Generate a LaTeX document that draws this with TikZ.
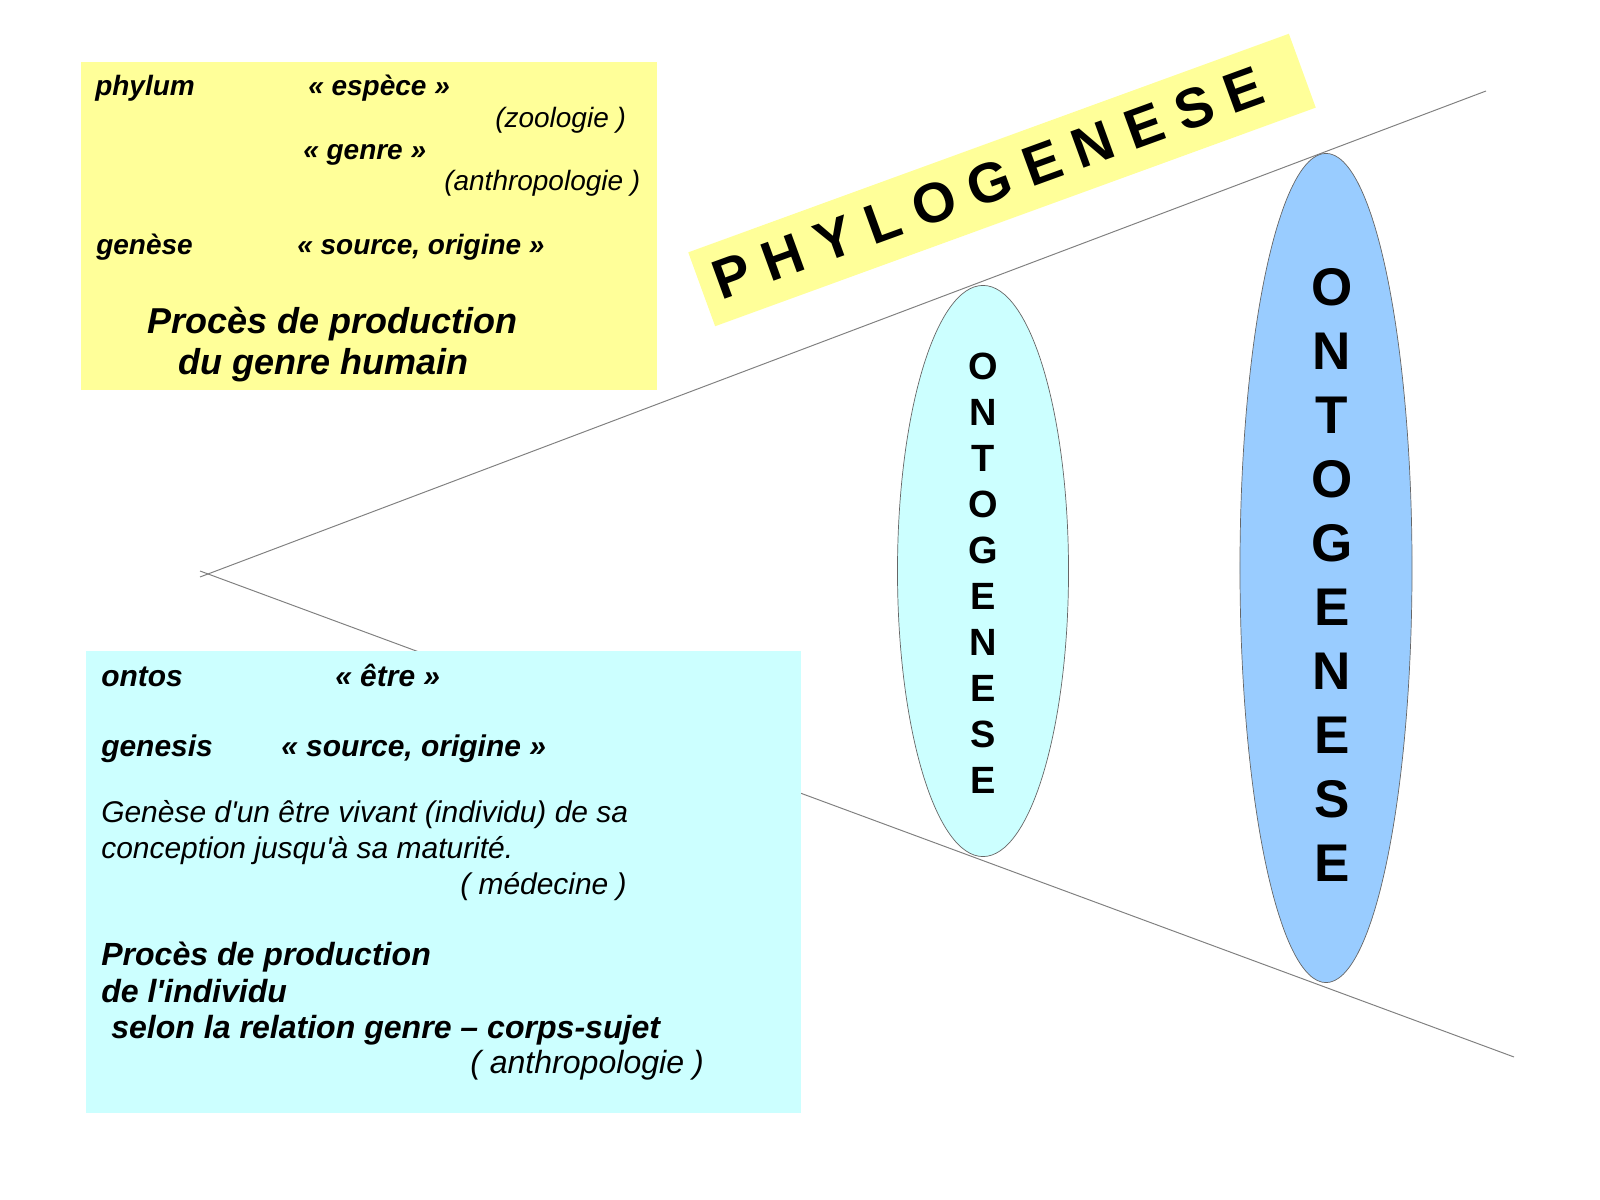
\documentclass[tikz,border=0pt]{standalone}
\usepackage{fontspec}
\setmainfont{Liberation Sans}
\usetikzlibrary{shapes.geometric}
\definecolor{phyyellow}{HTML}{FFFF99}
\definecolor{ontocyan}{HTML}{CCFFFF}
\definecolor{ontoblue}{HTML}{99CCFF}
\begin{document}
\begin{tikzpicture}[x=0.025cm,y=-0.025cm,
  cone/.style={draw=gray,line width=0.7pt},
  phybold/.style={anchor=base west,inner sep=0pt,font=\fontsize{19.9}{24}\selectfont\bfseries\itshape},
  phyital/.style={anchor=base west,inner sep=0pt,font=\fontsize{19.9}{24}\selectfont\itshape},
  phybig/.style={anchor=base west,inner sep=0pt,font=\fontsize{25.6}{31}\selectfont\bfseries\itshape},
  ontbold/.style={anchor=base west,inner sep=0pt,font=\fontsize{21.3}{26}\selectfont\bfseries\itshape},
  ontital/.style={anchor=base west,inner sep=0pt,font=\fontsize{21.3}{26}\selectfont\itshape},
  ontbig/.style={anchor=base west,inner sep=0pt,font=\fontsize{22.8}{27}\selectfont\bfseries\itshape},
  ontoshape/.style={ellipse,draw=black!60,line width=0.5pt,inner sep=0pt}]
\useasboundingbox (0,0) rectangle (1600,1200);
% the cone
\coordinate (upA) at (200,577);
\coordinate (upB) at (1486,91);
\coordinate (lowA) at (200,571);
\coordinate (lowB) at (1514,1057);
\draw[cone] (upA) -- (upB);
\draw[cone] (lowA) -- (lowB);
% boxes
\node[fill=phyyellow,inner sep=0pt,outer sep=0pt,anchor=north west,minimum width=14.4cm,minimum height=8.2cm] (phybox) at (81,62) {};
\node[fill=ontocyan,inner sep=0pt,outer sep=0pt,anchor=north west,minimum width=17.875cm,minimum height=11.55cm] (ontbox) at (86,651) {};
% banner
\node[fill=phyyellow,rotate=20,minimum width=15.975cm,minimum height=1.965cm] (phyband) at (1002,180) {};
\node[rotate=20,inner sep=0pt,font=\fontsize{39.8}{48}\selectfont\bfseries] (phytitle) at (988,183) {P H Y L O G E N E S E};
% ellipses
\node[ontoshape,fill=ontocyan,minimum width=4.275cm,minimum height=14.275cm] (ontosmall) at (983,571) {};
\node[ontoshape,fill=ontoblue,minimum width=4.3cm,minimum height=20.725cm] (ontobig) at (1326,568) {};
\node[align=center,inner sep=0pt,font=\fontsize{27}{32.7}\selectfont\bfseries] (ontosmalltext) at (983,573) {O\\N\\T\\O\\G\\E\\N\\E\\S\\E};
\node[align=center,inner sep=0pt,font=\fontsize{37.7}{45.5}\selectfont\bfseries] (ontobigtext) at (1332,575) {O\\N\\T\\O\\G\\E\\N\\E\\S\\E};
% yellow box text
\node[phybold] (phylum) at (95,96) {phylum};
\node[phybold] (espece) at (308,96) {« espèce »};
\node[phyital] (zoologie) at (495,128) {(zoologie )};
\node[phybold] (genre) at (303,160) {« genre »};
\node[phyital] (anthropoA) at (444,191) {(anthropologie )};
\node[phybold] (genese) at (96,255) {genèse};
\node[phybold] (sourceA) at (297,255) {« source, origine »};
\node[phybig] (procesA1) at (147,334) {Procès de production};
\node[phybig] (procesA2) at (178,375) {du genre humain};
% cyan box text
\node[ontbold] (ontos) at (101,687) {ontos};
\node[ontbold] (etre) at (335,687) {« être »};
\node[ontbold] (genesis) at (101,756) {genesis};
\node[ontbold] (sourceB) at (281,756) {« source, origine »};
\node[ontital] (defA) at (101,822) {Genèse d\textquotesingle un être vivant (individu) de sa};
\node[ontital] (defB) at (101,858) {conception jusqu\textquotesingle à sa maturité.};
\node[ontital] (medecine) at (460,894) {( médecine )};
\node[ontbig] (procesB1) at (101,965) {Procès de production};
\node[ontbig] (procesB2) at (101,1002) {de l\textquotesingle individu};
\node[ontbig] (procesB3) at (111,1038) {selon la relation genre – corps-sujet};
\node[ontbig,font=\fontsize{22.8}{27}\selectfont\itshape] (anthropoB) at (470,1073) {( anthropologie )};
\end{tikzpicture}
\end{document}
